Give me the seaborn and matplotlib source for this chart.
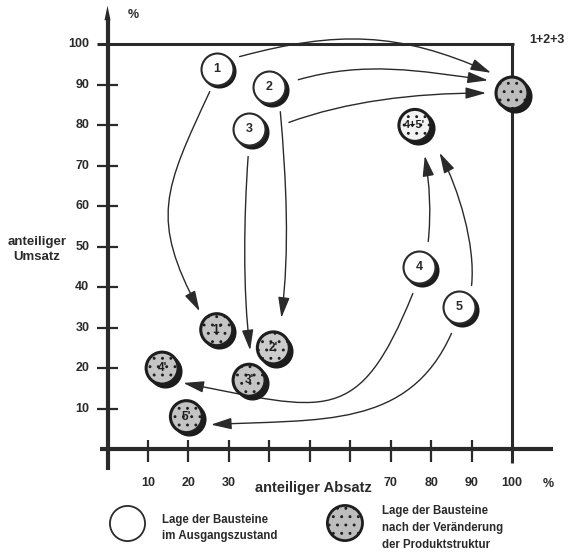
import numpy as np
import pandas as pd
import matplotlib
matplotlib.use("Agg")
import matplotlib.pyplot as plt
import seaborn as sns
from matplotlib.path import Path
from matplotlib.patches import FancyArrowPatch

# ---------------- data ----------------
start_labels = ["1", "2", "3", "4", "5"]
start_x = [27, 40, 35, 77, 87]
start_y = [94, 89.5, 79, 45, 35]

end_labels = ["1+2+3'", "4+5'", "1'", "2'", "3'", "4'", "5'"]
end_x = [100, 76, 27, 41, 35, 13.5, 19.5]
end_y = [88, 80, 29.5, 25, 17, 20, 8]
end_text = ["", "4+5'", "1'", "2'", "3'", "4'", "5'"]

moves_from = ["1", "2", "3", "1", "3", "2", "4", "5", "4", "5"]
moves_to = ["1+2+3'", "1+2+3'", "1+2+3'", "1'", "3'", "2'", "4+5'", "4+5'", "4'", "5'"]

axis_ticks = [10, 20, 30, 40, 50, 60, 70, 80, 90, 100]
x_tick_labels = ["10", "20", "30", "", "", "", "70", "80", "90", "100"]
y_tick_labels = ["10", "20", "30", "40", "50", "60", "70", "80", "90", "100"]

x_title = "anteiliger Absatz"
y_title = "anteiliger\nUmsatz"
legend_a = "Lage der Bausteine\nim Ausgangszustand"
legend_b = "Lage der Bausteine\nnach der Veränderung\nder Produktstruktur"

# arrow shape styling: (posA angle, distA, dirA, lenA, posB angle, distB, dirB, lenB)
arrow_shape = [
    (28, 6.4, 15, 25, 136, 7.2, 156, 25),
    (14, 7.4, 16, 17, 152, 6.7, 172, 17),
    (10, 10.0, 20, 15, 180, 6.4, 180, 18),
    (-107, 5.9, -115, 27, 133, 6.2, 118, 26),
    (-92, 6.7, -94, 15, 88, 7.4, 97, 15),
    (-66, 6.7, -85, 17, 75, 7.7, 83, 17),
    (70, 6.7, 84, 7, -72, 7.9, -80, 7),
    (61, 6.2, 84, 10, -48, 9.1, -62, 10),
    (-103, 6.7, -112, 36, -35, 6.4, -11, 36),
    (-107, 6.7, -114, 26, -18, 6.4, 3, 27),
]
end_face = ["#bdbdbd", "#f2f2f2", "#c4c4c4", "#cccccc", "#c4c4c4", "#c4c4c4", "#c4c4c4"]
end_fs = [7, 7.8, 8.5, 8.5, 8.5, 8.5, 8.5]

# ---------------- style ----------------
sns.set_style("white")
plt.rcParams["font.family"] = ["Liberation Sans", "DejaVu Sans"]
plt.rcParams["hatch.color"] = "#555555"
plt.rcParams["hatch.linewidth"] = 0.9
INK = "#2a2a2a"

fig = plt.figure(figsize=(5.68, 5.56), dpi=100)
ax = fig.add_axes([0, 0, 1, 1])
ax.set_axis_off()

# axes frame
ax.plot([-1.9, 110.2], [0, 0], color=INK, lw=3.0, solid_capstyle="butt", zorder=1)
ax.plot([0, 0], [-5.2, 106], color=INK, lw=3.0, solid_capstyle="butt", zorder=1)
ax.fill([-0.75, 0, 0.75], [106, 109.6, 106], color=INK, lw=0, zorder=1)
ax.plot([-2.6, 100.6], [100, 100], color=INK, lw=2.2, solid_capstyle="butt", zorder=1)
ax.plot([100, 100], [100, -3.5], color=INK, lw=2.2, solid_capstyle="butt", zorder=1)

# ticks
ax.hlines(axis_ticks[:-1], -2.6, 2.6, color=INK, lw=1.6, zorder=1)
ax.vlines(axis_ticks[:-1], -3.2, 2.2, color=INK, lw=1.6, zorder=1)
for t, lab in zip(axis_ticks, y_tick_labels):
    ax.text(-4.5, t, lab, ha="right", va="center", fontsize=9, fontweight="bold", color=INK)
for t, lab in zip(axis_ticks, x_tick_labels):
    if lab:
        ax.text(t, -8.4, lab, ha="center", va="center", fontsize=9, fontweight="bold", color=INK)
ax.text(6.3, 107.3, "%", ha="center", va="center", fontsize=9, fontweight="bold", color=INK)
ax.text(108.9, -8.6, "%", ha="center", va="center", fontsize=9, fontweight="bold", color=INK)
ax.text(50.9, -9.6, x_title, ha="center", va="center", fontsize=10.5, fontweight="bold", color=INK)
ax.text(-17.4, 49.3, y_title, ha="center", va="center", fontsize=9.5, fontweight="bold",
        color=INK, linespacing=1.25)
ax.text(104.2, 101.2, "1+2+3", ha="left", va="center", fontsize=9, fontweight="bold", color=INK)

# arrows
pos = {l: np.array([x, y]) for l, x, y in zip(start_labels + end_labels,
                                              start_x + end_x, start_y + end_y)}


def u(a):
    r = np.radians(a)
    return np.array([np.cos(r), np.sin(r)])


for src, dst, (pA, dA, aA, lA, pB, dB, aB, lB) in zip(moves_from, moves_to, arrow_shape):
    p0 = pos[src] + dA * u(pA)
    c1 = p0 + lA * u(aA)
    p3 = pos[dst] + dB * u(pB)
    c2 = p3 + lB * u(aB)
    path = Path([p0, c1, c2, p3], [Path.MOVETO, Path.CURVE4, Path.CURVE4, Path.CURVE4])
    arr = FancyArrowPatch(path=path, arrowstyle="-|>,head_length=1.25,head_width=0.35",
                          mutation_scale=10, color=INK, lw=1.0, zorder=2)
    ax.add_patch(arr)

# circles
S = 530
df_start = pd.DataFrame({"x": start_x, "y": start_y, "label": start_labels})
df_end = pd.DataFrame({"x": end_x, "y": end_y, "label": end_text})
off = 0.65

sns.scatterplot(data=df_start.assign(x=df_start.x + off, y=df_start.y - off), x="x", y="y",
                s=S, color="#1c1c1c", edgecolor="#1c1c1c", linewidth=1.5, ax=ax,
                legend=False, zorder=3)
sns.scatterplot(data=df_start, x="x", y="y", s=S, color="white", edgecolor=INK,
                linewidth=1.5, ax=ax, legend=False, zorder=4)
for _, r in df_start.iterrows():
    ax.text(r.x, r.y, r.label, ha="center", va="center", fontsize=9, fontweight="bold",
            color=INK, zorder=5)

sns.scatterplot(data=df_end.assign(x=df_end.x + off, y=df_end.y - off), x="x", y="y",
                s=S, color="#1c1c1c", edgecolor="#1c1c1c", linewidth=1.5, ax=ax,
                legend=False, zorder=3)
sns.scatterplot(data=df_end, x="x", y="y", s=S, color="#bdbdbd", edgecolor="#1e1e1e",
                linewidth=2.2, ax=ax, legend=False, zorder=4)
coll = ax.collections[-1]
coll.set_facecolor(end_face)
coll.set_hatch("..")
for (_, r), fs in zip(df_end.iterrows(), end_fs):
    ax.text(r.x, r.y, r.label, ha="center", va="center", fontsize=fs, fontweight="bold",
            color="#1e1e1e", zorder=5)

# legend
ax.scatter([4.8], [-18.3], s=640, facecolor="white", edgecolor=INK, linewidth=1.3, zorder=4)
ax.text(13.5, -19.6, legend_a, ha="left", va="center", fontsize=8.3, fontweight="bold",
        color=INK, linespacing=1.45)
leg_b = ax.scatter([58.7], [-18.3], s=640, facecolor="#bdbdbd", edgecolor="#1e1e1e",
                   linewidth=2.0, zorder=4)
leg_b.set_hatch("..")
ax.text(67.9, -19.5, legend_b, ha="left", va="center", fontsize=8.3, fontweight="bold",
        color=INK, linespacing=1.55)

ax.set_xlim(-26.58, 113.85)
ax.set_ylim(-26.45, 111.0)
fig.savefig("out.png", dpi=100, facecolor="white")
